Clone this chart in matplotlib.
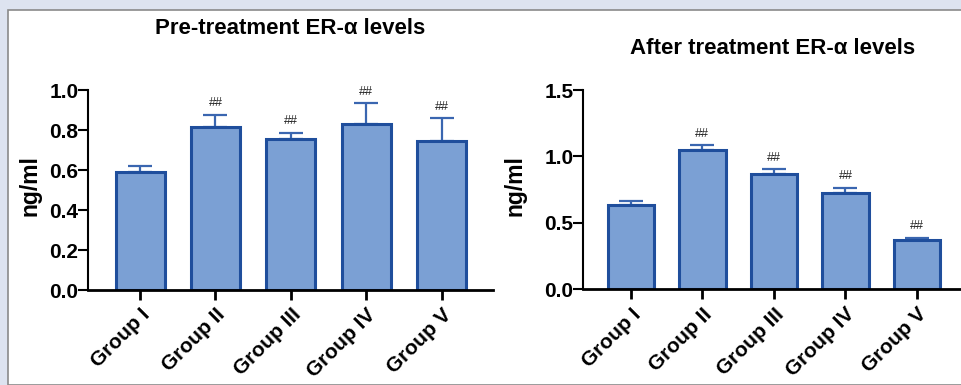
import matplotlib.pyplot as plt
from matplotlib.patches import Rectangle

groups = ['Group I', 'Group II', 'Group III', 'Group IV', 'Group V']

pre_mean = [0.59, 0.817, 0.753, 0.83, 0.747]
pre_err = [0.03, 0.058, 0.034, 0.103, 0.111]
pre_sig = ['', '##', '##', '##', '##']

post_mean = [0.635, 1.05, 0.867, 0.724, 0.372]
post_err = [0.031, 0.035, 0.038, 0.042, 0.015]
post_sig = ['', '##', '##', '##', '##']

plt.rcParams['font.family'] = ['Liberation Sans', 'DejaVu Sans']

W, H = 962, 385
fig = plt.figure(figsize=(W / 100, H / 100), dpi=100)
fig.patch.set_facecolor('#dde3f0')
fig.patches.append(Rectangle((8 / W, 0), 1, (H - 10) / H, transform=fig.transFigure,
                             facecolor='white', edgecolor='#8a8a8a', linewidth=1.2,
                             zorder=-5))

fill = '#7ba0d4'
edge = '#1f4e9c'


def draw(ax, means, errs, sig, ylim, yticks, ylabels, xlim):
    x = list(range(len(groups)))
    ax.bar(x, means, width=0.65, color=fill, edgecolor=edge, linewidth=2.2, zorder=2)
    ax.errorbar(x, means, yerr=[[0] * len(errs), errs], fmt='none', ecolor='#3a66b0',
                elinewidth=1.6, capsize=8.5, capthick=1.6, zorder=1)
    for xi, m, e, s in zip(x, means, errs, sig):
        if s:
            ax.annotate(s, (xi, m + e), xytext=(0, 4), textcoords='offset points',
                        ha='center', va='bottom', fontsize=9, color='#222222')
    ax.set_xlim(*xlim)
    ax.set_ylim(*ylim)
    ax.set_yticks(yticks)
    ax.set_yticklabels(ylabels, fontsize=15, fontweight='bold')
    ax.set_xticks(x)
    ax.set_xticklabels(groups, rotation=45, ha='right', rotation_mode='anchor',
                       fontsize=15, fontweight='bold')
    for side in ['top', 'right']:
        ax.spines[side].set_visible(False)
    ax.spines['left'].set_linewidth(1.5)
    ax.spines['bottom'].set_linewidth(2)
    ax.tick_params(axis='y', length=7, width=1.5, pad=0)
    ax.tick_params(axis='x', length=7, width=2, pad=4)
    ax.patch.set_alpha(0)


ax1 = fig.add_axes([88 / W, 95 / H, 405 / W, 200 / H])
draw(ax1, pre_mean, pre_err, pre_sig, (0, 1.0), [0, 0.2, 0.4, 0.6, 0.8, 1.0],
     ['0.0', '0.2', '0.4', '0.6', '0.8', '1.0'], (-0.69, 4.68))

ax2 = fig.add_axes([583 / W, 95.7 / H, 379 / W, 199.3 / H])
draw(ax2, post_mean, post_err, post_sig, (0, 1.5), [0, 0.5, 1.0, 1.5],
     ['0.0', '0.5', '1.0', '1.5'], (-0.67, 4.63))

fig.text(290 / W, 357 / H, 'Pre-treatment ER-α levels', ha='center', va='center',
         fontsize=16, fontweight='bold')
fig.text(773 / W, 337 / H, 'After treatment ER-α levels', ha='center', va='center',
         fontsize=16, fontweight='bold')
fig.text(30 / W, 199 / H, 'ng/ml', rotation=90, ha='center', va='center',
         fontsize=16.5, fontweight='bold')
fig.text(515 / W, 199 / H, 'ng/ml', rotation=90, ha='center', va='center',
         fontsize=16.5, fontweight='bold')

fig.savefig('out.png', dpi=100, facecolor=fig.get_facecolor())
